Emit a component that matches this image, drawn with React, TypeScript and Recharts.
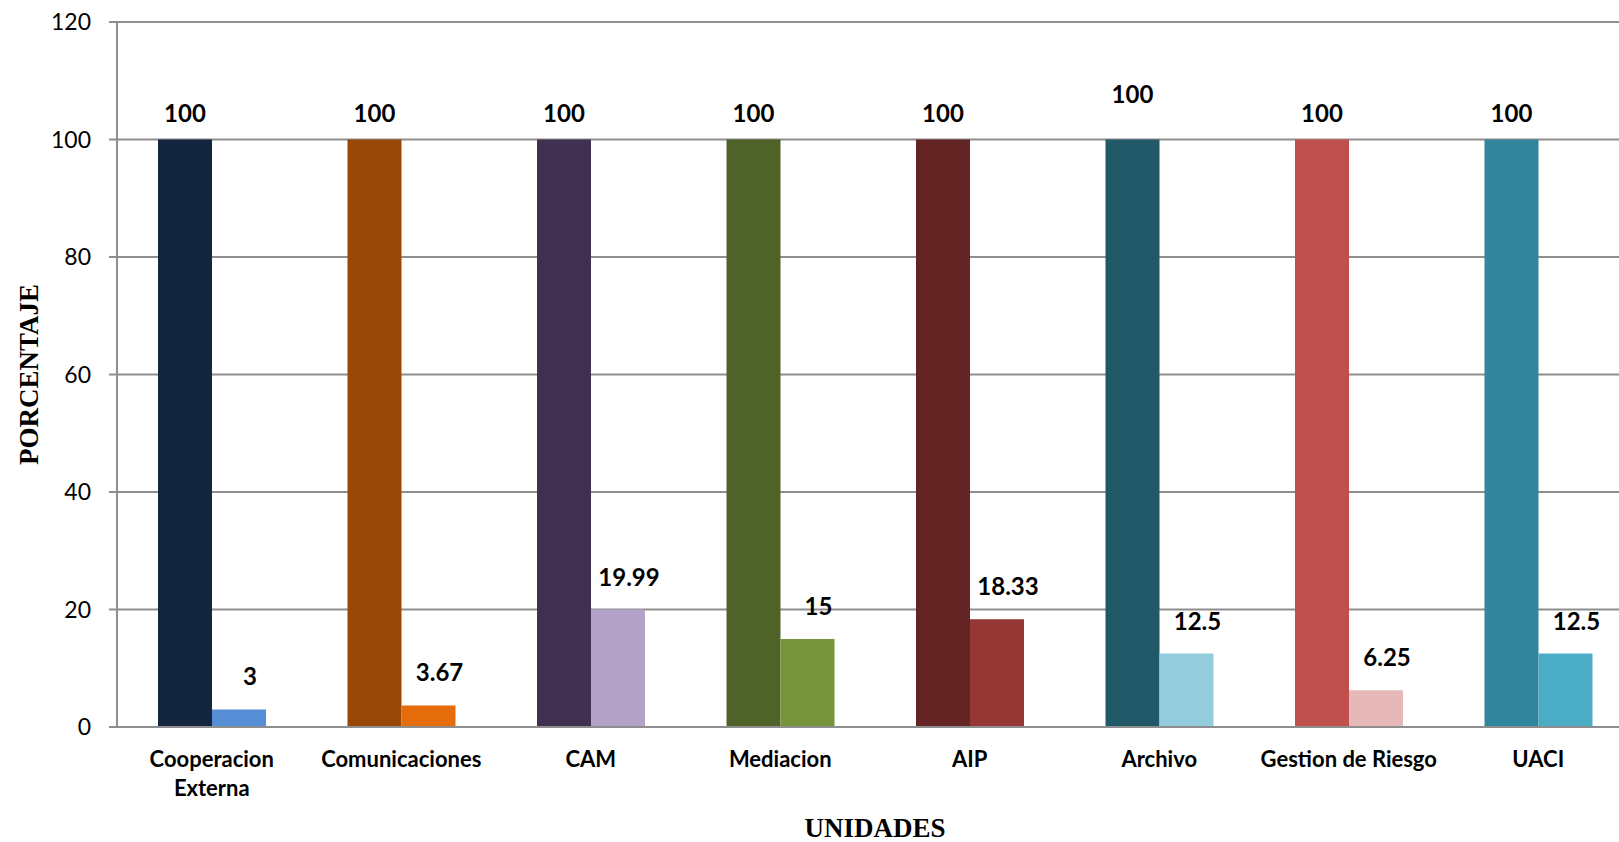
import React from "react";
import {
  Bar,
  BarChart,
  CartesianGrid,
  Cell,
  Label,
  LabelList,
  XAxis,
  YAxis,
} from "recharts";

const CATEGORIES = [
  "Cooperacion\nExterna",
  "Comunicaciones",
  "CAM",
  "Mediacion",
  "AIP",
  "Archivo",
  "Gestion de Riesgo",
  "UACI",
];
const PLANNED = [100, 100, 100, 100, 100, 100, 100, 100];
const ACHIEVED = [3, 3.67, 19.99, 15, 18.33, 12.5, 6.25, 12.5];
const Y_TICKS = [0, 20, 40, 60, 80, 100, 120];

const DARK = ["#14263F", "#974807", "#403151", "#4F6228", "#632523", "#215968", "#C0504D", "#31859C"];
const LIGHT = ["#558ED5", "#E46C0A", "#B3A2C7", "#77933C", "#953735", "#93CDDD", "#E6B9B8", "#4BACC6"];

const data = CATEGORIES.map((name, i) => ({
  name,
  planned: PLANNED[i],
  achieved: ACHIEVED[i],
}));

const SANS = "Lato, 'Open Sans', sans-serif";
const SERIF = "'Liberation Serif', 'DejaVu Serif', serif";
const GRID = "#8E8E8E";

function XTick({ x, y, payload }: any) {
  const lines = String(payload.value).split("\n");
  return (
    <g transform={`translate(${x},${y})`}>
      {lines.map((l, i) => (
        <text
          key={i}
          x={0}
          y={40 + i * 29}
          textAnchor="middle"
          fontFamily={SANS}
          fontWeight={700}
          fontSize={22}
          fill="#000"
        >
          {l}
        </text>
      ))}
    </g>
  );
}

// labels above the 100% bars (Archivo's sits a bit higher in the original)
function PlannedLabel(props: any) {
  const { x, y, width, value, index } = props;
  const lift = index === 5 ? 19 : 0;
  return (
    <text
      x={x + width / 2}
      y={y - 18 - lift}
      textAnchor="middle"
      fontFamily={SANS}
      fontWeight={700}
      fontSize={24}
      fill="#000"
    >
      {value}
    </text>
  );
}

function AchievedLabel(props: any) {
  const { x, y, width, value } = props;
  return (
    <text
      x={x + width / 2 + 11}
      y={y - 24}
      textAnchor="middle"
      fontFamily={SANS}
      fontWeight={700}
      fontSize={24}
      fill="#000"
    >
      {value}
    </text>
  );
}

export default function App() {
  return (
    <div
      style={{
        position: "fixed",
        left: 0,
        top: 0,
        width: 1619,
        height: 842,
        overflow: "hidden",
        background: "#fff",
      }}
    >
      <BarChart
        width={1633}
        height={842}
        data={data}
        margin={{ top: 22, right: 0, bottom: 0, left: 0 }}
        barGap={0}
        barSize={54}
      >
        <CartesianGrid vertical={false} stroke={GRID} strokeWidth={2} />
        <XAxis
          dataKey="name"
          height={115}
          tickLine={false}
          tickSize={0}
          tickMargin={0}
          axisLine={{ stroke: GRID, strokeWidth: 2 }}
          tick={<XTick />}
          interval={0}
        >
          <Label
            content={({ viewBox }: any) => (
              <text
                x={viewBox.x + viewBox.width / 2}
                y={837}
                textAnchor="middle"
                fontFamily={SERIF}
                fontWeight={700}
                fontSize={27}
                fill="#000"
              >
                UNIDADES
              </text>
            )}
          />
        </XAxis>
        <YAxis
          width={117}
          domain={[0, 120]}
          ticks={Y_TICKS}
          interval={0}
          tickSize={8}
          tickMargin={18}
          tickLine={{ stroke: GRID, strokeWidth: 2 }}
          axisLine={{ stroke: GRID, strokeWidth: 2 }}
          tick={{ fontFamily: SANS, fontSize: 23, fill: "#000" }}
        >
          <Label
            content={({ viewBox }: any) => {
              const cy = viewBox.y + viewBox.height / 2;
              return (
                <text
                  x={29}
                  y={cy}
                  transform={`rotate(-90, 29, ${cy})`}
                  textAnchor="middle"
                  dominantBaseline="central"
                  fontFamily={SERIF}
                  fontWeight={700}
                  fontSize={27}
                  fill="#000"
                >
                  PORCENTAJE
                </text>
              );
            }}
          />
        </YAxis>
        <Bar dataKey="planned" isAnimationActive={false}>
          {data.map((d, i) => (
            <Cell key={d.name} fill={DARK[i]} />
          ))}
          <LabelList dataKey="planned" content={<PlannedLabel />} />
        </Bar>
        <Bar dataKey="achieved" isAnimationActive={false}>
          {data.map((d, i) => (
            <Cell key={d.name} fill={LIGHT[i]} />
          ))}
          <LabelList dataKey="achieved" content={<AchievedLabel />} />
        </Bar>
      </BarChart>
    </div>
  );
}
